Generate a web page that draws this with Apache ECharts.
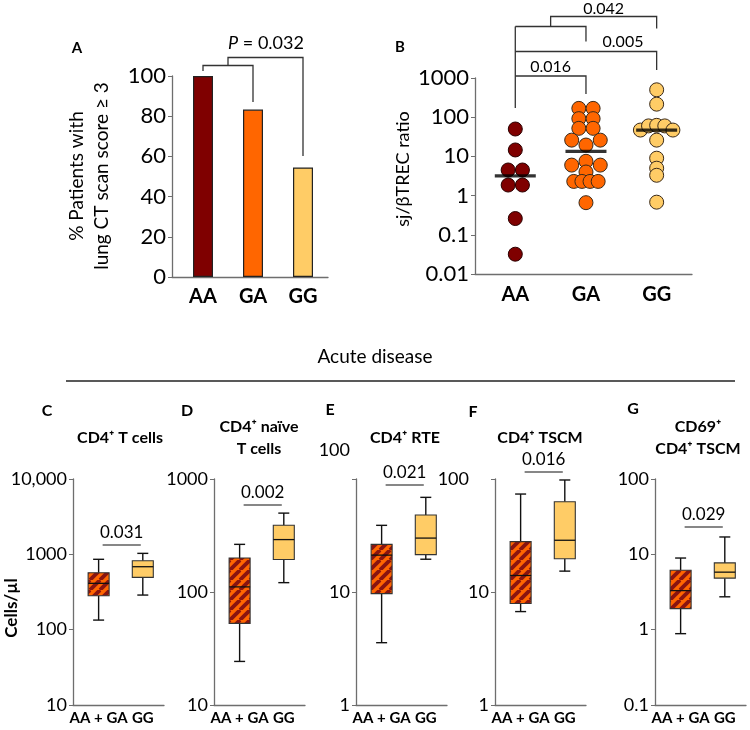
<!DOCTYPE html>
<html><head><meta charset="utf-8">
<script src="https://cdn.jsdelivr.net/npm/echarts@6/dist/echarts.min.js"></script>
<style>html,body{margin:0;padding:0;background:#fff}#c{width:750px;height:730px}</style>
</head><body><div id="c"></div>
<script>
// ---------------- DATA ----------------
const genotypes = ['AA', 'GA', 'GG'];
const ctScorePct = [100, 83.3, 54.5];           // % patients with lung CT score >= 3
const ctPValue = '0.032';

// sj/betaTREC ratio, listed row by row (top to bottom, left to right)
const trecAA = [50, 14.6, 4.5, 4.5, 1.86, 1.86, 0.26, 0.032];
const trecGA = [168, 168, 92, 92, 52, 52, 26, 19.5, 26, 6, 7.5, 6, 4, 2.3, 2.3, 2.3, 2.3, 0.66];
const trecGG = [500, 215, 47, 60, 62, 60, 47, 26, 9, 5, 3.3, 0.68];
const trecPValues = ['0.016', '0.005', '0.042'];

const boxGroups = ['AA + GA', 'GG'];
// [min, Q1, median, Q3, max]
const cd4T      = [[134, 282, 412, 570, 859], [288, 494, 685, 822, 1030]];
const cd4Naive  = [[24.3, 52.8, 111, 200, 264], [121, 194, 291, 390, 499]];
const cd4RTE    = [[3.56, 9.67, 21.2, 26.4, 38.9], [19.5, 21.4, 30, 48, 68.8]];
const cd4TSCM   = [[6.71, 7.9, 14, 27.9, 73.6], [15.3, 19.7, 28.7, 62.9, 98]];
const cd69TSCM  = [[0.885, 1.9, 3.3, 6.15, 8.93], [2.73, 4.83, 5.8, 7.7, 17]];
const boxPValues = ['0.031', '0.002', '0.021', '0.016', '0.029'];
const boxTitles = [['CD4⁺ T cells'], ['CD4⁺ naïve', 'T cells'], ['CD4⁺ RTE'], ['CD4⁺ TSCM'], ['CD69⁺', 'CD4⁺ TSCM']];
const boxLetters = ['C', 'D', 'E', 'F', 'G'];
const boxYRanges = [[10, 10000], [10, 1000], [1, 100], [1, 100], [0.1, 100]];

// ---------------- STYLE ----------------
const FONT = 'Lato, "Noto Sans", "DejaVu Sans", sans-serif';
const C_AA = '#7f0000', C_GA = '#ff6600', C_GG = '#ffcc66';
const AXIS = '#6e6e6e';

// stripe pattern for AA + GA boxes
const pc = document.createElement('canvas');
const S = 10; pc.width = S; pc.height = S;
const pctx = pc.getContext('2d');
pctx.fillStyle = C_GA; pctx.fillRect(0, 0, S, S);
pctx.strokeStyle = '#8a1410'; pctx.lineWidth = 3.8;
for (let k = -1; k <= 1; k++) { pctx.beginPath(); pctx.moveTo(k * S, S); pctx.lineTo(k * S + S, 0); pctx.stroke(); }
const stripe = { image: pc, repeat: 'repeat' };

function median(arr) {
  const s = arr.slice().sort((a, b) => a - b); const n = s.length;
  return n % 2 ? s[(n - 1) / 2] : (s[n / 2 - 1] + s[n / 2]) / 2;
}
// simple row-based swarm: neighbouring values within tol decades share a row
function swarm(values, center) {
  const tol = 0.15, out = []; let i = 0;
  while (i < values.length) {
    const st = Math.log10(values[i]); let j = i;
    while (j < values.length && Math.abs(Math.log10(values[j]) - st) < tol) j++;
    const n = j - i, step = n >= 4 ? 0.115 : 0.202;
    for (let k = 0; k < n; k++) out.push([center + (k - (n - 1) / 2) * step, values[i + k]]);
    i = j;
  }
  return out;
}
function fmtLog(v) {
  if (v >= 1) { const r = Math.round(v); return r >= 10000 ? r.toLocaleString('en-US') : String(r); }
  return String(Number(v.toPrecision(1)));
}

const chart = echarts.init(document.getElementById('c'), null, { renderer: 'canvas', width: 750, height: 730 });

const boxLefts = [73, 214, 356, 495, 655];
const grids = [
  { left: 172, top: 76, width: 156, height: 201 },
  { left: 475, top: 78, width: 217, height: 196 }
].concat(boxLefts.map(l => ({ left: l, top: 479, width: 91, height: 226 })));

const axisLineStyle = { show: true, onZero: false, lineStyle: { color: AXIS, width: 1.3 } };
const xAxes = [
  { gridIndex: 0, type: 'value', min: 0.38, max: 3.5, axisLine: axisLineStyle, axisTick: { show: false }, splitLine: { show: false },
    axisLabel: { customValues: [1, 2, 3], formatter: v => genotypes[Math.round(v) - 1], fontFamily: FONT, fontWeight: 'bold', fontSize: 20, color: '#000', margin: 10 } },
  { gridIndex: 1, type: 'value', min: 0.43, max: 3.5, axisLine: axisLineStyle, axisTick: { show: false }, splitLine: { show: false },
    axisLabel: { customValues: [1, 2, 3], formatter: v => genotypes[Math.round(v) - 1], fontFamily: FONT, fontWeight: 'bold', fontSize: 20, color: '#000', margin: 11 } }
].concat(boxLefts.map((l, i) => ({ gridIndex: i + 2, type: 'value', min: 0.42, max: 2.48, axisLine: axisLineStyle, axisTick: { show: false }, splitLine: { show: false },
    axisLabel: { customValues: [1, 2], formatter: v => boxGroups[Math.round(v) - 1], fontFamily: FONT, fontWeight: 'bold', fontSize: 15, color: '#000', margin: 6 } })));

const yAxes = [
  { gridIndex: 0, type: 'value', min: 0, max: 100, interval: 20, axisLine: axisLineStyle, axisTick: { show: true, length: 4, lineStyle: { color: AXIS } }, splitLine: { show: false },
    axisLabel: { fontFamily: FONT, fontSize: 22, color: '#000', margin: 6 } },
  { gridIndex: 1, type: 'log', logBase: 10, min: 0.01, max: 1000, axisLine: axisLineStyle, axisTick: { show: true, length: 4, lineStyle: { color: AXIS } }, splitLine: { show: false },
    axisLabel: { fontFamily: FONT, fontSize: 22, color: '#000', margin: 6, formatter: fmtLog } }
].concat(boxYRanges.map((r, i) => ({ gridIndex: i + 2, type: 'log', logBase: 10, min: r[0], max: r[1], axisLine: axisLineStyle,
    axisTick: { show: true, length: 4, lineStyle: { color: AXIS } }, splitLine: { show: false },
    axisLabel: { fontFamily: FONT, fontSize: 18, color: '#000', margin: 6,
      formatter: v => { const t = fmtLog(v); if (i === 2 && Math.round(v) === 100) return '{up|' + t + '}'; if (i === 3 && Math.round(v) === 100) return '{lt|' + t + '}'; return t; },
      rich: { up: { fontFamily: FONT, fontSize: 18, color: '#000', padding: [0, 0, 58, 0] }, lt: { fontFamily: FONT, fontSize: 18, color: '#000', padding: [0, 20, 0, 0] } } } })));

function boxSeries(idx, stats) {
  return {
    type: 'custom', xAxisIndex: idx, yAxisIndex: idx, z: 5,
    data: stats.map((s, i) => [i + 1].concat(s)),
    encode: { x: 0, y: [1, 2, 3, 4, 5] },
    renderItem: (params, api) => {
      const x = api.value(0);
      const p = [1, 2, 3, 4, 5].map(d => api.coord([x, api.value(d)]));
      const cx = p[0][0], hw = 10.5, cw = 5.5;
      const ls = { stroke: '#111', lineWidth: 1.4 };
      return { type: 'group', children: [
        { type: 'line', shape: { x1: cx, y1: p[4][1], x2: cx, y2: p[3][1] }, style: ls },
        { type: 'line', shape: { x1: cx, y1: p[1][1], x2: cx, y2: p[0][1] }, style: ls },
        { type: 'line', shape: { x1: cx - cw, y1: p[4][1], x2: cx + cw, y2: p[4][1] }, style: ls },
        { type: 'line', shape: { x1: cx - cw, y1: p[0][1], x2: cx + cw, y2: p[0][1] }, style: ls },
        { type: 'rect', shape: { x: cx - hw, y: p[3][1], width: 2 * hw, height: p[1][1] - p[3][1] },
          style: { fill: params.dataIndex === 0 ? stripe : C_GG, stroke: '#333', lineWidth: 1.1 } },
        { type: 'line', shape: { x1: cx - hw, y1: p[2][1], x2: cx + hw, y2: p[2][1] }, style: { stroke: '#111', lineWidth: 1.3 } }
      ] };
    }
  };
}

const trecGroups = [trecAA, trecGA, trecGG];
const trecColors = [C_AA, C_GA, C_GG];
const series = [
  { type: 'bar', xAxisIndex: 0, yAxisIndex: 0, barWidth: 20,
    data: ctScorePct.map((v, i) => ({ value: [i + 1, v], itemStyle: { color: [C_AA, C_GA, C_GG][i] } })),
    itemStyle: { borderColor: '#222', borderWidth: 1.2 } }
].concat(trecGroups.map((g, i) => ({
  type: 'scatter', xAxisIndex: 1, yAxisIndex: 1, symbol: 'circle', symbolSize: 14, z: 3,
  data: swarm(g, i + 1),
  itemStyle: { color: trecColors[i], borderColor: i === 0 ? '#2a0000' : '#3a2a1a', borderWidth: 1, opacity: 1 }
}))).concat([{
  type: 'scatter', xAxisIndex: 1, yAxisIndex: 1, symbol: 'rect', symbolSize: [41, 3.3], z: 4,
  data: trecGroups.map((g, i) => [i + 1, median(g)]), itemStyle: { color: '#000' }
}]).concat([cd4T, cd4Naive, cd4RTE, cd4TSCM, cd69TSCM].map((s, i) => boxSeries(i + 2, s)));

chart.setOption({
  backgroundColor: '#fff', animation: false,
  grid: grids, xAxis: xAxes, yAxis: yAxes, series: series
});

// ---------------- annotations ----------------
const px = (gi, x) => chart.convertToPixel({ gridIndex: gi }, [x, 1])[0];
const LC = '#333';
const g = [];
const txt = (x, y, text, o) => g.push(Object.assign({ type: 'text', x: x, y: y, z: 10,
  style: Object.assign({ text: text, fontFamily: FONT, fontSize: 15, fill: '#000', align: 'center', verticalAlign: 'middle' }, (o && o.style) || {}) }, o && o.rot ? { rotation: o.rot } : {}));
const poly = (pts, w) => g.push({ type: 'polyline', z: 10, shape: { points: pts }, style: { stroke: LC, lineWidth: w || 1.3, fill: null } });

// Panel A
const aX = [1, 2, 3].map(v => px(0, v));
const aMid = (aX[0] + aX[1]) / 2;
txt(77, 48, 'A', { style: { fontWeight: 'bold', fontSize: 15 } });
poly([[aX[0], 71], [aX[0], 65.5], [aX[1], 65.5], [aX[1], 102]]);
poly([[aMid, 65.5], [aMid, 57.5], [aX[2], 57.5], [aX[2], 156]]);
g.push({ type: 'text', x: 266, y: 43, z: 10, style: { text: '{i|P} = ' + ctPValue, fontFamily: FONT, fontSize: 18, fill: '#000', align: 'center', verticalAlign: 'middle',
  rich: { i: { fontFamily: FONT, fontSize: 18, fontStyle: 'italic', fill: '#000' } } } });
txt(77, 176, '% Patients with', { rot: Math.PI / 2, style: { fontSize: 19 } });
txt(102, 176, 'lung CT scan score ≥ 3', { rot: Math.PI / 2, style: { fontSize: 19 } });

// Panel B
const bX = [1, 2, 3].map(v => px(1, v));
const bMid = (bX[0] + bX[1]) / 2;
txt(400, 47, 'B', { style: { fontWeight: 'bold', fontSize: 15 } });
txt(403, 169, 'sj/βTREC ratio', { rot: Math.PI / 2, style: { fontSize: 18 } });
poly([[bX[0], 108], [bX[0], 26.5]]);
poly([[bX[0], 76], [bX[1], 76], [bX[1], 94]]);
poly([[bX[0], 51.5], [bX[2], 51.5], [bX[2], 70]]);
poly([[bX[0], 26.5], [bX[1], 26.5], [bX[1], 41.5]]);
poly([[bMid, 26.5], [bMid, 16.5], [bX[2], 16.5], [bX[2], 28.5]]);
txt(bMid, 67, trecPValues[0], { style: { fontSize: 16 } });
txt(623, 42, trecPValues[1], { style: { fontSize: 16 } });
txt((bMid + bX[2]) / 2, 9, trecPValues[2], { style: { fontSize: 16 } });

// Acute disease header
txt(375, 357, 'Acute disease', { style: { fontSize: 19 } });
g.push({ type: 'line', z: 10, shape: { x1: 66, y1: 381, x2: 735, y2: 381 }, style: { stroke: '#222', lineWidth: 1.3 } });

// box panels
const letterPos = [[47, 411], [187, 411], [330, 410], [473, 412], [633, 409]];
const titleX = [120, 259, 405, 540, 698];
const sigY = [545, 505, 485, 472, 527];
boxLetters.forEach((L, i) => {
  txt(letterPos[i][0], letterPos[i][1], L, { style: { fontWeight: 'bold', fontSize: 16 } });
  const t = boxTitles[i];
  if (t.length === 1) txt(titleX[i], 438, t[0], { style: { fontWeight: 'bold', fontSize: 16 } });
  else { txt(titleX[i], 427, t[0], { style: { fontWeight: 'bold', fontSize: 16 } }); txt(titleX[i], 449, t[1], { style: { fontWeight: 'bold', fontSize: 16 } }); }
  const x1 = px(i + 2, 1) + 4, x2 = px(i + 2, 2) - 2;
  g.push({ type: 'line', z: 10, shape: { x1: x1, y1: sigY[i], x2: x2, y2: sigY[i] }, style: { stroke: '#111', lineWidth: 1.2 } });
  txt((x1 + x2) / 2, sigY[i] - 12, boxPValues[i], { style: { fontSize: 17 } });
});
txt(12, 608, 'Cells/µl', { rot: Math.PI / 2, style: { fontWeight: 'bold', fontSize: 17 } });

chart.setOption({ graphic: { elements: g } });
</script></body></html>
